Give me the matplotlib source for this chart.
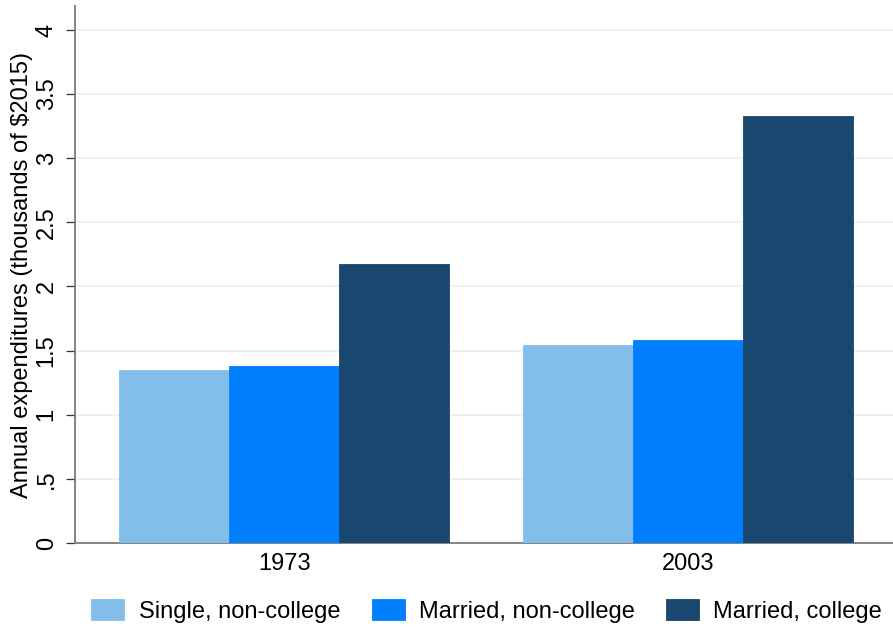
import matplotlib
matplotlib.use("Agg")
import matplotlib.pyplot as plt
import numpy as np

years = ["1973", "2003"]
series = ["Single, non-college", "Married, non-college", "Married, college"]
single_noncollege = [1.35, 1.545]
married_noncollege = [1.38, 1.585]
married_college = [2.175, 3.33]
yticks = [0, 0.5, 1, 1.5, 2, 2.5, 3, 3.5, 4]
ytick_labels = ["0", ".5", "1", "1.5", "2", "2.5", "3", "3.5", "4"]
colors = ["#82bee9", "#0080ff", "#1a476f"]

plt.rcParams['font.family'] = ['Liberation Sans', 'DejaVu Sans']
FS = 17

fig = plt.figure(figsize=(8.93, 6.28), dpi=100)
ax = fig.add_axes([75/893, 1-543/628, 1-75/893, (543-6)/628])

x = np.arange(len(years))
w = 0.2726
vals = [single_noncollege, married_noncollege, married_college]
for i, (v, c, lab) in enumerate(zip(vals, colors, series)):
    ax.bar(x + (i-1)*w, v, width=w, color=c, label=lab, zorder=3,
           edgecolor=c, linewidth=0.6)

ax.set_xlim(-0.519, 1.508)
ax.set_ylim(0, 4.187)
ax.set_yticks(yticks)
ax.set_yticklabels(ytick_labels, rotation=90, va='center', fontsize=FS)
ax.set_xticks(x)
ax.set_xticklabels(years, fontsize=FS)
ax.tick_params(axis='x', length=0, pad=7)
ax.tick_params(axis='y', length=6.5, width=0.9, color='#333333', pad=6)
ax.yaxis.grid(True, color='#eaf2f3', linewidth=1.4, zorder=0)
ax.set_axisbelow(True)
for s in ['top', 'right']:
    ax.spines[s].set_visible(False)
for s in ['left', 'bottom']:
    ax.spines[s].set_color('#7a7a7a')
    ax.spines[s].set_linewidth(1.3)
ax.set_ylabel("Annual expenditures (thousands of $2015)", fontsize=FS, labelpad=2)

fig.legend(loc='center', bbox_to_anchor=(0.545, 0.027), ncol=3, frameon=False,
           fontsize=FS, handlelength=1.4, handleheight=0.93, handletextpad=0.6,
           columnspacing=1.33)

fig.savefig("out.png", dpi=100)
